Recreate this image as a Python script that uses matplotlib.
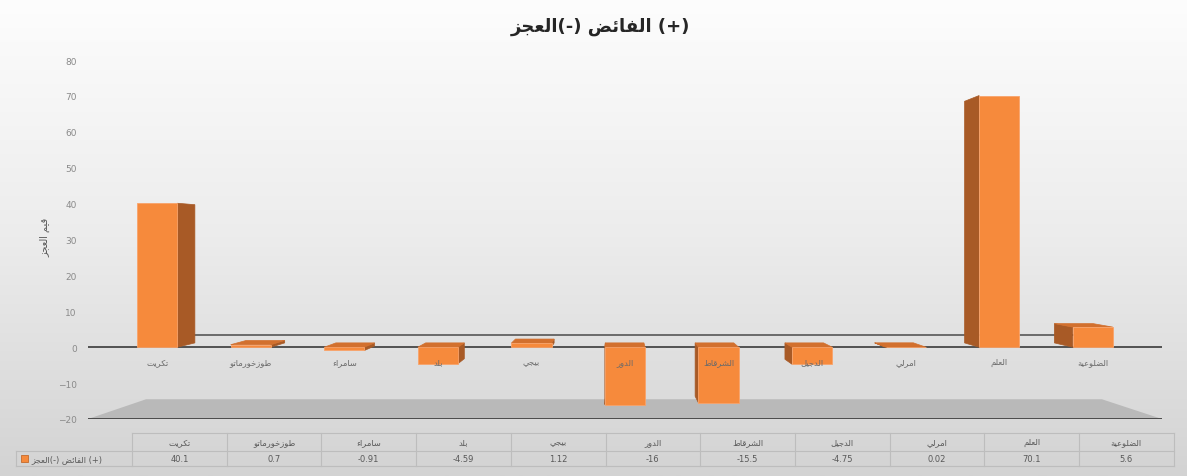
import numpy as np
import matplotlib.pyplot as plt
from matplotlib.patches import Polygon, Rectangle

plt.rcParams['font.family'] = ['DejaVu Sans']

# data (Salah ad-Din districts)
districts = ['تكريت', 'طوزخورماتو', 'سامراء', 'بلد', 'بيجي', 'الدور',
             'الشرقاط', 'الدجيل', 'امرلي', 'العلم', 'الضلوعية']
values = [40.1, 0.7, -0.91, -4.59, 1.12, -16, -15.5, -4.75, 0.02, 70.1, 5.6]
y_ticks = [-20, -10, 0, 10, 20, 30, 40, 50, 60, 70, 80]

# --- tiny arabic shaper (presentation forms + reversed for display) ---
FORMS = {'ء': (0xFE80, 1), 'آ': (0xFE81, 2), 'أ': (0xFE83, 2), 'ؤ': (0xFE85, 2),
         'إ': (0xFE87, 2), 'ئ': (0xFE89, 4), 'ا': (0xFE8D, 2), 'ب': (0xFE8F, 4),
         'ة': (0xFE93, 2), 'ت': (0xFE95, 4), 'ث': (0xFE99, 4), 'ج': (0xFE9D, 4),
         'ح': (0xFEA1, 4), 'خ': (0xFEA5, 4), 'د': (0xFEA9, 2), 'ذ': (0xFEAB, 2),
         'ر': (0xFEAD, 2), 'ز': (0xFEAF, 2), 'س': (0xFEB1, 4), 'ش': (0xFEB5, 4),
         'ص': (0xFEB9, 4), 'ض': (0xFEBD, 4), 'ط': (0xFEC1, 4), 'ظ': (0xFEC5, 4),
         'ع': (0xFEC9, 4), 'غ': (0xFECD, 4), 'ف': (0xFED1, 4), 'ق': (0xFED5, 4),
         'ك': (0xFED9, 4), 'ل': (0xFEDD, 4), 'م': (0xFEE1, 4), 'ن': (0xFEE5, 4),
         'ه': (0xFEE9, 4), 'و': (0xFEED, 2), 'ى': (0xFEEF, 2), 'ي': (0xFEF1, 4)}
LAM_ALEF = {'ا': 0xFEFB, 'أ': 0xFEF7, 'إ': 0xFEF9, 'آ': 0xFEF5}


def ar(word):
    out = []
    prev = False
    i = 0
    while i < len(word):
        c = word[i]
        if c == 'ل' and i + 1 < len(word) and word[i + 1] in LAM_ALEF:
            out.append(chr(LAM_ALEF[word[i + 1]] + (1 if prev else 0)))
            prev = False
            i += 2
            continue
        if c not in FORMS:
            out.append(c)
            prev = False
            i += 1
            continue
        start, n = FORMS[c]
        nxt = word[i + 1] if i + 1 < len(word) else None
        nxt_ok = n == 4 and nxt in FORMS and FORMS[nxt][1] > 1
        if prev and nxt_ok:
            f = start + 3
        elif prev:
            f = start + 1
        elif nxt_ok:
            f = start + 2
        else:
            f = start
        out.append(chr(f))
        prev = nxt_ok
        i += 1
    return ''.join(reversed(out))


def ar_text(s):
    return ' '.join(ar(w) for w in reversed(s.split(' ')))


series_name = ar('العجز') + '(-) ' + ar('الفائض') + ' (+)'

W, H = 1187, 477
fig = plt.figure(figsize=(W / 100, H / 100), dpi=100)

# background gradient
bg = fig.add_axes([0, 0, 1, 1], zorder=-5)
grad = np.linspace(0, 1, 256)[:, None]
bg.imshow(grad, aspect='auto', cmap=plt.matplotlib.colors.LinearSegmentedColormap.from_list(
    'g', ['#fdfdfd', '#ececec', '#d3d3d3']), extent=[0, 1, 0, 1])
bg.axis('off')

# main plot area
x0, x1 = -0.74, 10.74
ax = fig.add_axes([88 / W, (H - 420) / H, (1162 - 88) / W, (420 - 61) / H])
ax.set_xlim(x0, x1)
ax.set_ylim(-20, 80)
ax.patch.set_alpha(0)
for sp in ax.spines.values():
    sp.set_visible(False)
ax.set_xticks([])
ax.set_yticks(y_ticks)
ax.tick_params(axis='y', length=0, pad=8, labelsize=6.5, labelcolor='#8a8a8a')

vx, vy = 4.9, 30.0
s_wall, s_bar = 0.89, 0.96


def back(x, y, s):
    return (vx + (x - vx) * s, vy + (y - vy) * s)


# floor and back wall zero line
floor = [(x0, -20), (x1, -20), back(x1, -20, s_wall), back(x0, -20, s_wall)]
ax.add_patch(Polygon(floor, closed=True, facecolor='#b9b9b9', edgecolor='none', zorder=1))
bl0, bl1 = back(x0, 0, s_wall), back(x1, 0, s_wall)
ax.plot([bl0[0], bl1[0]], [bl0[1], bl1[1]], color='#4a4a4a', lw=1.1, zorder=1)
ax.plot([x0, x1], [0, 0], color='#3a3a3a', lw=1.2, zorder=2)
ax.plot([x0, x1], [-20, -20], color='#4a4a4a', lw=1.4, zorder=2)

w = 0.43
for i, v in enumerate(values):
    l, r = i - w / 2, i + w / 2
    lo, hi = min(0, v), max(0, v)
    if i < vx:
        side = [(r, lo), (r, hi), back(r, hi, s_bar), back(r, lo, s_bar)]
    else:
        side = [(l, lo), (l, hi), back(l, hi, s_bar), back(l, lo, s_bar)]
    ax.add_patch(Polygon(side, closed=True, facecolor='#a85a26', edgecolor='#a85a26',
                         lw=0.5, zorder=3))
    if hi < vy:
        top = [(l, hi), (r, hi), back(r, hi, s_bar), back(l, hi, s_bar)]
        ax.add_patch(Polygon(top, closed=True, facecolor='#d2702e', edgecolor='#d2702e',
                             lw=0.5, zorder=3))
    ax.add_patch(Rectangle((l, lo), w, hi - lo, facecolor='#f68a3c', edgecolor='#f9a36a',
                           lw=0.6, zorder=4))
    ax.text(i, -3.9, ar(districts[i]), ha='center', va='center', fontsize=6,
            color='#6a6a6a', zorder=6, clip_on=False)

fig.text(45 / W, 1 - 237 / H, ar_text('قيم العجز'), rotation=90, ha='center',
         va='center', fontsize=7, color='#595959')

fig.text(600 / W, 1 - 27 / H, series_name, ha='center', va='center', fontsize=13,
         fontweight='bold', color='#262626')

# data table under the chart (pixel coordinates)
tab = fig.add_axes([0, 0, 1, 1], zorder=5)
tab.set_xlim(0, W)
tab.set_ylim(H, 0)
tab.axis('off')
col0, cw = 132, 94.7
edges = [col0 + k * cw for k in range(len(districts) + 1)]
lc = '#bdbdbd'
tab.plot([edges[0], edges[-1]], [434, 434], color=lc, lw=0.8)
tab.plot([16, edges[-1]], [452, 452], color=lc, lw=0.8)
tab.plot([16, edges[-1]], [467, 467], color=lc, lw=0.8)
tab.plot([16, 16], [452, 467], color=lc, lw=0.8)
for e in edges:
    tab.plot([e, e], [434, 467], color=lc, lw=0.8)
for k, (d, v) in enumerate(zip(districts, values)):
    cx = (edges[k] + edges[k + 1]) / 2
    tab.text(cx, 443, ar(d), ha='center', va='center', fontsize=6, color='#595959')
    tab.text(cx, 460, f'{v:g}', ha='center', va='center', fontsize=6, color='#595959')
tab.add_patch(Rectangle((21, 456), 7, 7, facecolor='#f68a3c', edgecolor='#c46a2c', lw=0.6))
tab.text(31, 460, series_name, ha='left', va='center', fontsize=6, color='#595959')

plt.savefig('out.png', dpi=100)
